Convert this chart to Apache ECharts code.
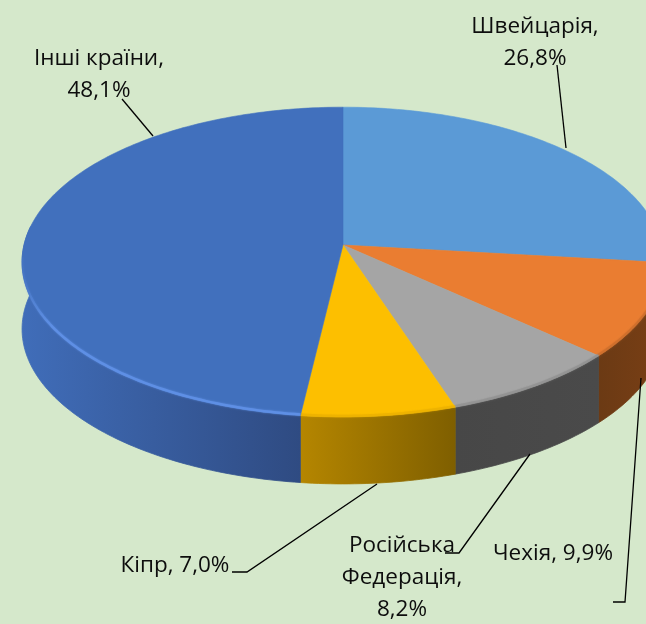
<!DOCTYPE html>
<html><head><meta charset="utf-8">
<style>html,body{margin:0;padding:0;background:#d5e8cb}#c{width:646px;height:624px}</style>
<script src="https://cdn.jsdelivr.net/npm/echarts@6/dist/echarts.min.js"></script>
</head><body><div id="c"></div>
<script>
// Data, clockwise from 12 o'clock
const countries = ['Швейцарія', 'Чехія', 'Російська Федерація', 'Кіпр', 'Інші країни'];
const shares = [26.8, 9.9, 8.2, 7.0, 48.1];

// Styles
const topColors = ['#5b9ad6', '#ea7d31', '#a5a5a5', '#fdbf00', '#4170bd'];
const sideColors = [
  ['#4a7db0', '#4a7db0'],
  ['#6b3a14', '#7a3f15'],
  ['#474747', '#4a4a4a'],
  ['#b58600', '#7f5f00'],
  ['#406db9', '#2f4b82']
];
const rimColors = ['#5b9ad6', '#c56a2a', '#8c8c8c', '#e8ae00', '#5f90e6'];
// Projection of the tilted disc
const CX = 343, CY = 245, RX = 319, RY = 153, PERSP = 0.11, DEPTH = 67;
function project(deg, drop) {
  const a = deg * Math.PI / 180, u = Math.sin(a), v = Math.cos(a), w = 1 + PERSP * v;
  return [CX + RX * u / w, CY - RY * v / w + (drop || 0)];
}
const total = shares.reduce((s, x) => s + x, 0);
const starts = [];
shares.reduce((acc, s, i) => { starts[i] = acc; return acc + s; }, 0);
const toDeg = p => p / total * 360;
function arc(a0, a1, drop) {
  const pts = [], n = Math.max(2, Math.ceil(Math.abs(a1 - a0)));
  for (let k = 0; k <= n; k++) pts.push(project(a0 + (a1 - a0) * k / n, drop));
  return pts;
}
const rows = countries.map((c, i) => [i, starts[i], shares[i]]);

function renderSide(params, api) {
  const i = api.value(0);
  const a0 = Math.max(toDeg(api.value(1)), 90), a1 = Math.min(toDeg(api.value(1) + api.value(2)), 277);
  if (a1 <= a0) return { type: 'group', children: [] };
  const pts = arc(a0, a1, 0).concat(arc(a0, a1, DEPTH).reverse());
  const grad = { type: 'linear', x: 0, y: 0, x2: 1, y2: 0, colorStops: [
      { offset: 0, color: sideColors[i][0] }, { offset: 1, color: sideColors[i][1] }] };
  return { type: 'polygon', shape: { points: pts }, style: { fill: grad, stroke: grad, lineWidth: 0.8 } };
}
function renderTop(params, api) {
  const i = api.value(0);
  const a0 = toDeg(api.value(1)), a1 = toDeg(api.value(1) + api.value(2));
  const pts = [[CX, CY]].concat(arc(a0, a1, 0));
  const children = [{ type: 'polygon', shape: { points: pts },
    style: { fill: topColors[i], stroke: topColors[i], lineWidth: 0.6 } }];
  const r0 = Math.max(a0, 90), r1 = Math.min(a1, 265);
  if (r1 > r0) {
    const fade = i === 4;
    children.push({ type: 'polyline', shape: { points: arc(r0, r1, -1) },
      style: { fill: 'none', lineWidth: 2.5,
        stroke: fade ? { type: 'linear', x: 0, y: 0, x2: 1, y2: 0, colorStops: [
          { offset: 0, color: 'rgba(95,144,230,0)' }, { offset: 0.12, color: rimColors[i] }, { offset: 1, color: rimColors[i] }] } : rimColors[i],
        opacity: fade ? 0.9 : 0.5, shadowBlur: 2, shadowColor: rimColors[i] } });
  }
  return { type: 'group', children };
}

// Callout layout: label centre and leader path, one per country
const callouts = [
  { x: 535, y: 43, path: [[557, 65], [566, 148]] },
  { x: 553, y: 554, path: [[613, 602], [625, 602], [641, 378]] },
  { x: 402, y: 578, path: [[445, 553], [459, 553], [530, 454]] },
  { x: 175, y: 566, path: [[232, 572], [247, 572], [377, 484]] },
  { x: 99, y: 75, path: [[122, 99], [153, 136]] }
];
const lineBreaks = [',\n', ', ', ',\n', ', ', ',\n'];
function renderCallout(params, api) {
  const i = api.value(0), c = callouts[i];
  const pct = api.value(2).toFixed(1).replace('.', ',') + '%';
  const name = i === 2 ? countries[i].replace(' ', '\n') : countries[i];
  return { type: 'group', children: [
    { type: 'polyline', shape: { points: c.path }, style: { fill: 'none', stroke: '#000', lineWidth: 1.3 } },
    { type: 'text', x: c.x, y: c.y, style: {
      text: name + lineBreaks[i] + pct, align: 'center', verticalAlign: 'middle',
      font: '22.5px "Open Sans"', lineHeight: 32, fill: '#0d0d0d' } }
  ] };
}

const chart = echarts.init(document.getElementById('c'), null, { renderer: 'canvas' });
chart.setOption({
  backgroundColor: '#d5e8cb',
  animation: false,
  series: [
    { type: 'custom', coordinateSystem: 'none', renderItem: renderSide, data: rows, z: 1, silent: true },
    { type: 'custom', coordinateSystem: 'none', renderItem: renderTop, data: rows, z: 2, silent: true },
    { type: 'custom', coordinateSystem: 'none', renderItem: renderCallout, data: rows, z: 3, silent: true }
  ]
});
</script></body></html>
